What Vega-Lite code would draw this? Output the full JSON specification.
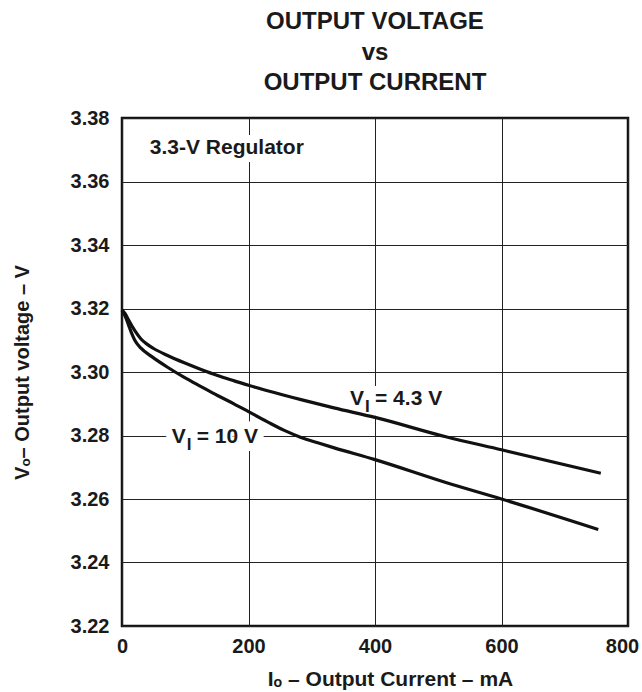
{
  "$schema": "https://vega.github.io/schema/vega-lite/v6.json",
  "width": 506,
  "height": 508,
  "autosize": {"type": "none"},
  "padding": {"left": 122, "top": 118, "right": 14, "bottom": 66},
  "background": "white",
  "config": {
    "font": "Liberation Sans",
    "view": {"stroke": "#111", "strokeWidth": 2.5},
    "axis": {
      "domain": false,
      "ticks": false,
      "grid": true,
      "gridColor": "#222",
      "gridWidth": 1,
      "gridOpacity": 1,
      "labelFont": "Liberation Sans",
      "labelFontSize": 20,
      "labelFontWeight": "bold",
      "labelColor": "#1a1a1a",
      "titleFont": "Liberation Sans",
      "titleFontSize": 20,
      "titleFontWeight": "bold",
      "titleColor": "#1a1a1a"
    }
  },
  "title": {
    "text": ["OUTPUT VOLTAGE", "vs", "OUTPUT CURRENT"],
    "font": "Liberation Sans",
    "fontSize": 24,
    "fontWeight": "bold",
    "lineHeight": 30.5,
    "offset": 13,
    "anchor": "middle",
    "color": "#1a1a1a"
  },
  "datasets": {
    "curves": [
      {"series": "VI = 4.3 V", "x": 0, "y": 3.3195},
      {"series": "VI = 4.3 V", "x": 5, "y": 3.3184},
      {"series": "VI = 4.3 V", "x": 10, "y": 3.3165},
      {"series": "VI = 4.3 V", "x": 20, "y": 3.3131},
      {"series": "VI = 4.3 V", "x": 30, "y": 3.3104},
      {"series": "VI = 4.3 V", "x": 40, "y": 3.3087},
      {"series": "VI = 4.3 V", "x": 50, "y": 3.3074},
      {"series": "VI = 4.3 V", "x": 72, "y": 3.3052},
      {"series": "VI = 4.3 V", "x": 98.5, "y": 3.3029},
      {"series": "VI = 4.3 V", "x": 125, "y": 3.3008},
      {"series": "VI = 4.3 V", "x": 151, "y": 3.2989},
      {"series": "VI = 4.3 V", "x": 177.6, "y": 3.2972},
      {"series": "VI = 4.3 V", "x": 200, "y": 3.2958},
      {"series": "VI = 4.3 V", "x": 230, "y": 3.2941},
      {"series": "VI = 4.3 V", "x": 283, "y": 3.2913},
      {"series": "VI = 4.3 V", "x": 335, "y": 3.2887},
      {"series": "VI = 4.3 V", "x": 400, "y": 3.2857},
      {"series": "VI = 4.3 V", "x": 512, "y": 3.2796},
      {"series": "VI = 4.3 V", "x": 600, "y": 3.2755},
      {"series": "VI = 4.3 V", "x": 757, "y": 3.2681},
      {"series": "VI = 10 V", "x": 0, "y": 3.3195},
      {"series": "VI = 10 V", "x": 5, "y": 3.3176},
      {"series": "VI = 10 V", "x": 10, "y": 3.3150},
      {"series": "VI = 10 V", "x": 15, "y": 3.3123},
      {"series": "VI = 10 V", "x": 20, "y": 3.3101},
      {"series": "VI = 10 V", "x": 30, "y": 3.3075},
      {"series": "VI = 10 V", "x": 46, "y": 3.3050},
      {"series": "VI = 10 V", "x": 72, "y": 3.3015},
      {"series": "VI = 10 V", "x": 98.5, "y": 3.2983},
      {"series": "VI = 10 V", "x": 125, "y": 3.2954},
      {"series": "VI = 10 V", "x": 151, "y": 3.2926},
      {"series": "VI = 10 V", "x": 177.6, "y": 3.2899},
      {"series": "VI = 10 V", "x": 200, "y": 3.2875},
      {"series": "VI = 10 V", "x": 230, "y": 3.2843},
      {"series": "VI = 10 V", "x": 256.6, "y": 3.2816},
      {"series": "VI = 10 V", "x": 283, "y": 3.2794},
      {"series": "VI = 10 V", "x": 309.4, "y": 3.2777},
      {"series": "VI = 10 V", "x": 335.6, "y": 3.2761},
      {"series": "VI = 10 V", "x": 400, "y": 3.2724},
      {"series": "VI = 10 V", "x": 512, "y": 3.2652},
      {"series": "VI = 10 V", "x": 600, "y": 3.2600},
      {"series": "VI = 10 V", "x": 753, "y": 3.2504}
    ],
    "labels": [
      {"x": 44, "y": 3.3706, "t": "3.3-V Regulator", "part": "main"},
      {"x": 78.6, "y": 3.2796, "t": "V", "part": "main"},
      {"x": 78.6, "y": 3.2796, "t": "I", "part": "sub"},
      {"x": 78.6, "y": 3.2796, "t": "= 10 V", "part": "rest"},
      {"x": 360.5, "y": 3.2915, "t": "V", "part": "main"},
      {"x": 360.5, "y": 3.2915, "t": "I", "part": "sub"},
      {"x": 360.5, "y": 3.2915, "t": "= 4.3 V", "part": "rest"}
    ]
  },
  "encoding": {
    "x": {
      "field": "x",
      "type": "quantitative",
      "scale": {"domain": [0, 800], "nice": false},
      "axis": {
        "values": [0, 200, 400, 600, 800],
        "title": "Iₒ – Output Current – mA",
        "titleFontSize": 21,
        "titleX": 268,
        "labelPadding": 10,
        "titlePadding": 12,
        "labelFlush": false,
        "labelOffset": {"expr": "datum.value == 800 ? -6 : 0"}
      }
    },
    "y": {
      "field": "y",
      "type": "quantitative",
      "scale": {"domain": [3.22, 3.38], "nice": false, "zero": false},
      "axis": {
        "values": [3.22, 3.24, 3.26, 3.28, 3.3, 3.32, 3.34, 3.36, 3.38],
        "format": ".2f",
        "title": "Vₒ– Output voltage – V",
        "labelPadding": 13,
        "titlePadding": 38
      }
    }
  },
  "layer": [
    {
      "data": {"name": "labels"},
      "transform": [{"filter": "datum.part == 'main'"}],
      "mark": {"type": "text", "align": "left", "baseline": "middle", "fontSize": 21, "fontWeight": "bold", "fill": "white", "stroke": "white", "strokeWidth": 16, "strokeJoin": "round"},
      "encoding": {"text": {"field": "t"}}
    },
    {
      "data": {"name": "labels"},
      "transform": [{"filter": "datum.part == 'sub'"}],
      "mark": {"type": "text", "align": "left", "baseline": "middle", "dx": 15, "dy": 8, "fontSize": 17, "fontWeight": "bold", "fill": "white", "stroke": "white", "strokeWidth": 16, "strokeJoin": "round"},
      "encoding": {"text": {"field": "t"}}
    },
    {
      "data": {"name": "labels"},
      "transform": [{"filter": "datum.part == 'rest'"}],
      "mark": {"type": "text", "align": "left", "baseline": "middle", "dx": 25, "fontSize": 21, "fontWeight": "bold", "fill": "white", "stroke": "white", "strokeWidth": 16, "strokeJoin": "round"},
      "encoding": {"text": {"field": "t"}}
    },
    {
      "data": {"name": "curves"},
      "mark": {"type": "line", "color": "#111", "strokeWidth": 3.2, "interpolate": "monotone"},
      "encoding": {"detail": {"field": "series"}}
    },
    {
      "data": {"name": "labels"},
      "transform": [{"filter": "datum.part == 'main'"}],
      "mark": {"type": "text", "align": "left", "baseline": "middle", "fontSize": 21, "fontWeight": "bold", "color": "#1a1a1a"},
      "encoding": {"text": {"field": "t"}}
    },
    {
      "data": {"name": "labels"},
      "transform": [{"filter": "datum.part == 'sub'"}],
      "mark": {"type": "text", "align": "left", "baseline": "middle", "dx": 15, "dy": 8, "fontSize": 17, "fontWeight": "bold", "color": "#1a1a1a"},
      "encoding": {"text": {"field": "t"}}
    },
    {
      "data": {"name": "labels"},
      "transform": [{"filter": "datum.part == 'rest'"}],
      "mark": {"type": "text", "align": "left", "baseline": "middle", "dx": 25, "fontSize": 21, "fontWeight": "bold", "color": "#1a1a1a"},
      "encoding": {"text": {"field": "t"}}
    }
  ]
}
